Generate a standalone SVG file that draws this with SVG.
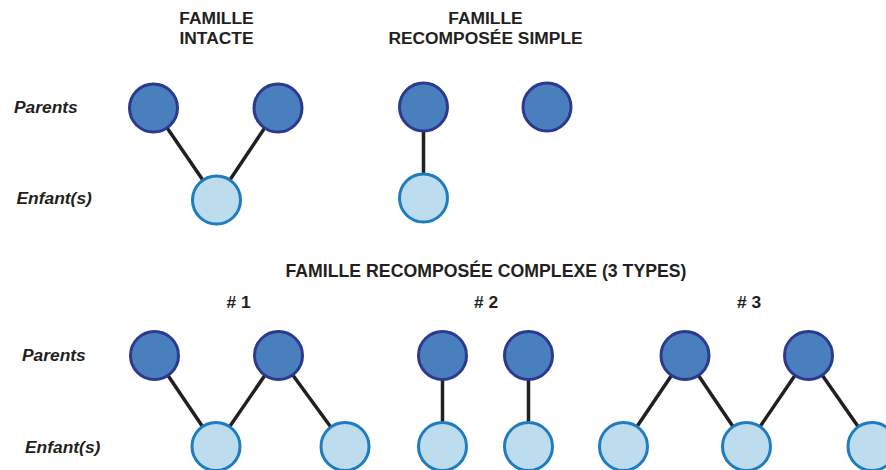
<svg xmlns="http://www.w3.org/2000/svg" width="886" height="470" viewBox="0 0 886 470">
<style>
.bg{fill:#ffffff}
.t{font-family:"Liberation Sans",Arial,sans-serif;font-weight:bold;font-size:17.4px;fill:#231f20;text-anchor:middle}
.big{font-size:17.7px}
.l{font-family:"Liberation Sans",Arial,sans-serif;font-weight:bold;font-style:italic;font-size:17.4px;fill:#231f20}
.p{fill:#4a7fbd;stroke:#2b3990;stroke-width:3}
.c{fill:#bddcee;stroke:#1f7cc0;stroke-width:3}
.e{stroke:#231f20;stroke-width:3.5;fill:none}
</style>
<rect class="bg" width="886" height="470"/>
<g id="titles">
<text class="t" x="216.5" y="24">FAMILLE</text>
<text class="t" x="216.5" y="44">INTACTE</text>
<text class="t" x="485.5" y="24">FAMILLE</text>
<text class="t" x="485.5" y="44">RECOMPOSÉE SIMPLE</text>
<text class="t big" x="486" y="277">FAMILLE RECOMPOSÉE COMPLEXE (3 TYPES)</text>
<text class="t" x="238.5" y="308"># 1</text>
<text class="t" x="486" y="308"># 2</text>
<text class="t" x="749" y="308"># 3</text>
</g>
<g id="labels">
<text class="l" x="14" y="113">Parents</text>
<text class="l" x="16.5" y="204">Enfant(s)</text>
<text class="l" x="22" y="361">Parents</text>
<text class="l" x="25" y="453">Enfant(s)</text>
</g>
<g id="connectors">
<line class="e" x1="153.5" y1="108" x2="216.5" y2="200"/>
<line class="e" x1="278" y1="108" x2="216.5" y2="200"/>
<line class="e" x1="423.5" y1="107" x2="423.5" y2="198"/>
<line class="e" x1="154.5" y1="355.5" x2="216" y2="446.5"/>
<line class="e" x1="278.5" y1="355.5" x2="216" y2="446.5"/>
<line class="e" x1="278.5" y1="355.5" x2="345" y2="446.5"/>
<line class="e" x1="442.5" y1="355.5" x2="442.5" y2="446.5"/>
<line class="e" x1="528.5" y1="355.5" x2="528.5" y2="446.5"/>
<line class="e" x1="685" y1="355.5" x2="623.5" y2="446.5"/>
<line class="e" x1="685" y1="355.5" x2="746.5" y2="446.5"/>
<line class="e" x1="808.5" y1="355.5" x2="746.5" y2="446.5"/>
<line class="e" x1="808.5" y1="355.5" x2="872" y2="446.5"/>
</g>
<g id="intact-p1"><circle class="p" cx="153.5" cy="108" r="24"/></g>
<g id="intact-p2"><circle class="p" cx="278" cy="108" r="24"/></g>
<g id="intact-c1"><circle class="c" cx="216.5" cy="200" r="24"/></g>
<g id="simple-p1"><circle class="p" cx="423.5" cy="107" r="24"/></g>
<g id="simple-p2"><circle class="p" cx="547" cy="107" r="24"/></g>
<g id="simple-c1"><circle class="c" cx="423.5" cy="198" r="24"/></g>
<g id="t1-p1"><circle class="p" cx="154.5" cy="355.5" r="24"/></g>
<g id="t1-p2"><circle class="p" cx="278.5" cy="355.5" r="24"/></g>
<g id="t1-c1"><circle class="c" cx="216" cy="446.5" r="24"/></g>
<g id="t1-c2"><circle class="c" cx="345" cy="446.5" r="24"/></g>
<g id="t2-p1"><circle class="p" cx="442.5" cy="355.5" r="24"/></g>
<g id="t2-p2"><circle class="p" cx="528.5" cy="355.5" r="24"/></g>
<g id="t2-c1"><circle class="c" cx="442.5" cy="446.5" r="24"/></g>
<g id="t2-c2"><circle class="c" cx="528.5" cy="446.5" r="24"/></g>
<g id="t3-p1"><circle class="p" cx="685" cy="355.5" r="24"/></g>
<g id="t3-p2"><circle class="p" cx="808.5" cy="355.5" r="24"/></g>
<g id="t3-c1"><circle class="c" cx="623.5" cy="446.5" r="24"/></g>
<g id="t3-c2"><circle class="c" cx="746.5" cy="446.5" r="24"/></g>
<g id="t3-c3"><circle class="c" cx="872" cy="446.5" r="24"/></g>
</svg>
